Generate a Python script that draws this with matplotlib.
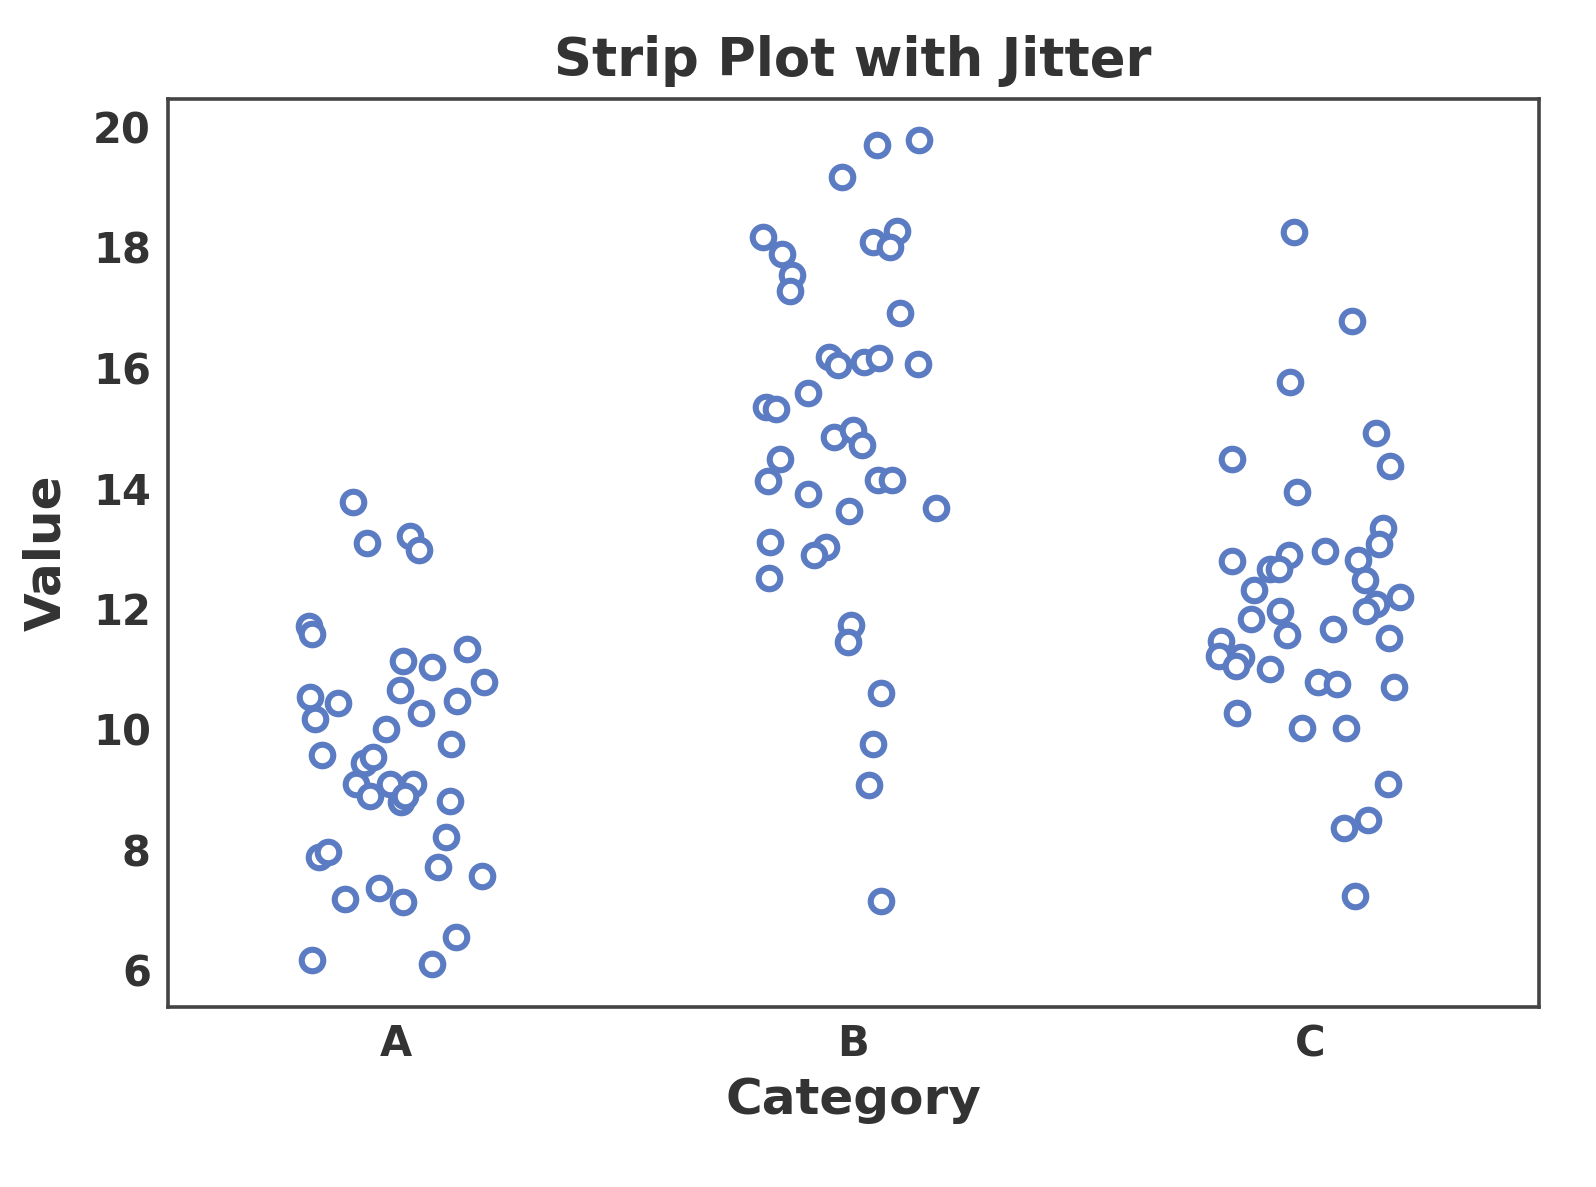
import matplotlib
matplotlib.use("Agg")
import matplotlib.pyplot as plt

categories = ["A", "B", "C"]
values_a = [13.77,13.09,13.21,12.97,11.71,11.58,11.13,11.03,11.33,10.78,10.53,10.43,10.66,10.47,10.17,10.27,10.0,9.75,9.57,9.44,9.55,9.10,9.10,9.10,8.89,8.80,8.90,8.82,8.22,7.89,7.97,7.71,7.56,7.19,7.36,7.14,6.56,6.18,6.10]
jitter_a = [-0.094,-0.063,0.031,0.050,-0.19,-0.184,0.015,0.079,0.155,0.193,-0.188,-0.127,0.009,0.133,-0.177,0.055,-0.022,0.12,-0.162,-0.07,-0.05,-0.088,-0.013,0.037,-0.057,0.011,0.02,0.118,0.109,-0.168,-0.149,0.092,0.188,-0.112,-0.037,0.015,0.131,-0.184,0.079]
values_b = [18.17,17.89,17.54,17.28,19.17,19.70,19.78,18.09,18.27,18.01,16.91,16.18,16.05,16.10,16.16,16.06,15.58,15.35,15.32,14.85,14.97,14.72,14.49,14.12,14.14,14.14,13.90,13.62,13.67,13.11,13.02,12.89,12.52,11.73,11.45,10.61,9.75,9.07,7.16]
jitter_b = [-0.197,-0.155,-0.133,-0.138,-0.024,0.053,0.144,0.044,0.096,0.081,0.103,-0.053,-0.033,0.024,0.057,0.142,-0.098,-0.19,-0.168,-0.042,0.0,0.02,-0.16,-0.186,0.055,0.085,-0.098,-0.009,0.182,-0.182,-0.059,-0.085,-0.184,-0.004,-0.011,0.061,0.044,0.035,0.061]
values_c = [18.26,16.78,15.76,14.92,14.49,14.37,13.94,13.34,13.07,12.79,12.96,12.89,12.81,12.67,12.67,12.48,12.31,12.19,12.08,11.96,11.96,11.84,11.66,11.56,11.46,11.51,11.21,11.20,11.06,11.00,10.78,10.75,10.71,10.28,10.02,10.03,9.10,8.37,8.49,7.23]
jitter_c = [-0.035,0.092,-0.044,0.144,-0.171,0.175,-0.028,0.16,0.151,-0.171,0.033,-0.046,0.105,-0.088,-0.068,0.12,-0.123,0.197,0.144,0.123,-0.066,-0.129,0.05,-0.05,-0.195,0.173,-0.199,-0.151,-0.162,-0.088,0.018,0.059,0.184,-0.16,-0.018,0.079,0.171,0.074,0.127,0.098]

fig = plt.figure(figsize=(7.98, 5.935), dpi=200)
ax = fig.add_axes([0.105, 0.152, 0.859, 0.765])
color = "#5b7cc2"
for i, (vals, jit) in enumerate([(values_a, jitter_a), (values_b, jitter_b), (values_c, jitter_c)]):
    ax.scatter([i + j for j in jit], vals, s=60, facecolor="white", edgecolor=color, linewidth=2.2, zorder=3)

ax.set_xlim(-0.5, 2.5)
ax.set_ylim(5.4, 20.47)
ax.set_xticks(range(3))
ax.set_xticklabels(categories)
ax.set_yticks(range(6, 21, 2))
txt = "#333333"
ax.tick_params(axis="both", length=0, labelsize=15, colors=txt, pad=6)
for lab in ax.get_xticklabels() + ax.get_yticklabels():
    lab.set_fontweight("bold")
for s in ax.spines.values():
    s.set_color("#444444")
    s.set_linewidth(1.3)
ax.set_title("Strip Plot with Jitter", fontsize=19, fontweight="bold", color=txt, pad=8)
ax.set_xlabel("Category", fontsize=18, fontweight="bold", color=txt, labelpad=4)
ax.set_ylabel("Value", fontsize=18, fontweight="bold", color=txt, labelpad=8)
fig.savefig("out.png", dpi=200)
